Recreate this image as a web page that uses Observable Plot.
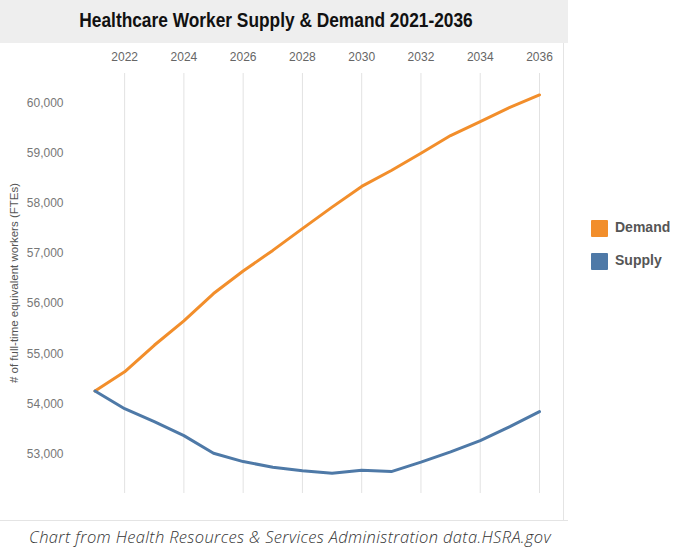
<!DOCTYPE html>
<html>
<head>
<meta charset="utf-8">
<script src="https://cdn.jsdelivr.net/npm/d3@7"></script>
<script src="https://cdn.jsdelivr.net/npm/@observablehq/plot@0.6"></script>
<style>
  html, body { margin: 0; padding: 0; background: #fff; }
  #wrap { position: relative; width: 700px; height: 560px; overflow: hidden; font-family: "Liberation Sans", Arial, sans-serif; }
  #band { position: absolute; left: 0; top: 0; width: 568px; height: 43px; background: #eeeeee; }
  #title { position: absolute; left: 275.5px; top: 9px; transform: translateX(-50%) scaleX(0.866); white-space: nowrap;
           font-weight: bold; font-size: 20px; color: #111; }
  #chart { position: absolute; left: 0; top: 43px; }
  #vborder { position: absolute; left: 563px; top: 43px; width: 1px; height: 478px; background: #e4e4e4; }
  #hborder { position: absolute; left: 0; top: 520px; width: 568px; height: 1px; background: #e4e4e4; }
  #ylabel { position: absolute; left: 14px; top: 283px; transform: translate(-50%, -50%) rotate(-90deg); white-space: nowrap;
            font-size: 11.5px; color: #555; }
  .leg { position: absolute; left: 591px; font-size: 14px; font-weight: bold; color: #555; white-space: nowrap; }
  .sw { display: inline-block; width: 17px; height: 17px; vertical-align: middle; margin-right: 7px; border-radius: 1px; }
  #caption { position: absolute; left: 290px; top: 525px; transform: translateX(-50%); white-space: nowrap;
             font-family: "Open Sans", Lato, sans-serif; font-style: italic; font-weight: 300; font-size: 16.5px;
             letter-spacing: 0.35px; color: #333; }
</style>
</head>
<body>
<div id="wrap">
  <div id="band"></div>
  <div id="title">Healthcare Worker Supply &amp; Demand 2021-2036</div>
  <div id="chart"></div>
  <div id="vborder"></div>
  <div id="hborder"></div>
  <div id="ylabel"># of full-time equivalent workers (FTEs)</div>
  <div class="leg" id="leg1" style="top:219px"></div>
  <div class="leg" id="leg2" style="top:252px"></div>
  <div id="caption">Chart from Health Resources &amp; Services Administration data.HSRA.gov</div>
</div>
<script>
const years = [2021, 2022, 2023, 2024, 2025, 2026, 2027, 2028, 2029, 2030, 2031, 2032, 2033, 2034, 2035, 2036];
const demand = [54258, 54642, 55170, 55656, 56200, 56650, 57060, 57493, 57922, 58334, 58652, 58996, 59348, 59626, 59911, 60157];
const supply = [54258, 53907, 53648, 53370, 53020, 52853, 52741, 52668, 52622, 52682, 52654, 52841, 53046, 53270, 53549, 53847];
const seriesNames = ["Demand", "Supply"];
const seriesColors = ["#f28e2b", "#4e79a7"];
const xTicks = [2022, 2024, 2026, 2028, 2030, 2032, 2034, 2036];
const yTicks = [53000, 54000, 55000, 56000, 57000, 58000, 59000, 60000];

const rows = [];
years.forEach((yr, i) => {
  rows.push({year: yr, value: demand[i], series: seriesNames[0]});
  rows.push({year: yr, value: supply[i], series: seriesNames[1]});
});

const chart = Plot.plot({
  width: 563,
  height: 478,
  marginLeft: 94.5,
  marginRight: 24,
  marginTop: 30,
  marginBottom: 28,
  style: {fontFamily: '"Liberation Sans", Arial, sans-serif', fontSize: "12px", background: "transparent"},
  x: {domain: [2021, 2036]},
  y: {domain: [52217, 60584]},
  color: {domain: seriesNames, range: seriesColors},
  marks: [
    Plot.gridX(xTicks, {stroke: "#e2e2e2", strokeOpacity: 1}),
    Plot.axisX(xTicks, {anchor: "top", tickSize: 0, tickPadding: 13, tickFormat: d => String(d), label: null, fill: "#666"}),
    Plot.axisY(yTicks, {anchor: "left", tickSize: 0, tickPadding: 31.5, tickFormat: d3.format(","), label: null, fill: "#777"}),
    Plot.line(rows, {x: "year", y: "value", z: "series", stroke: "series", strokeWidth: 3, strokeLinejoin: "round", strokeLinecap: "round"})
  ]
});
document.getElementById("chart").appendChild(chart);

[["leg1", 0], ["leg2", 1]].forEach(([id, i]) => {
  const el = document.getElementById(id);
  el.innerHTML = `<span class="sw" style="background:${seriesColors[i]}"></span>${seriesNames[i]}`;
});
</script>
</body>
</html>
